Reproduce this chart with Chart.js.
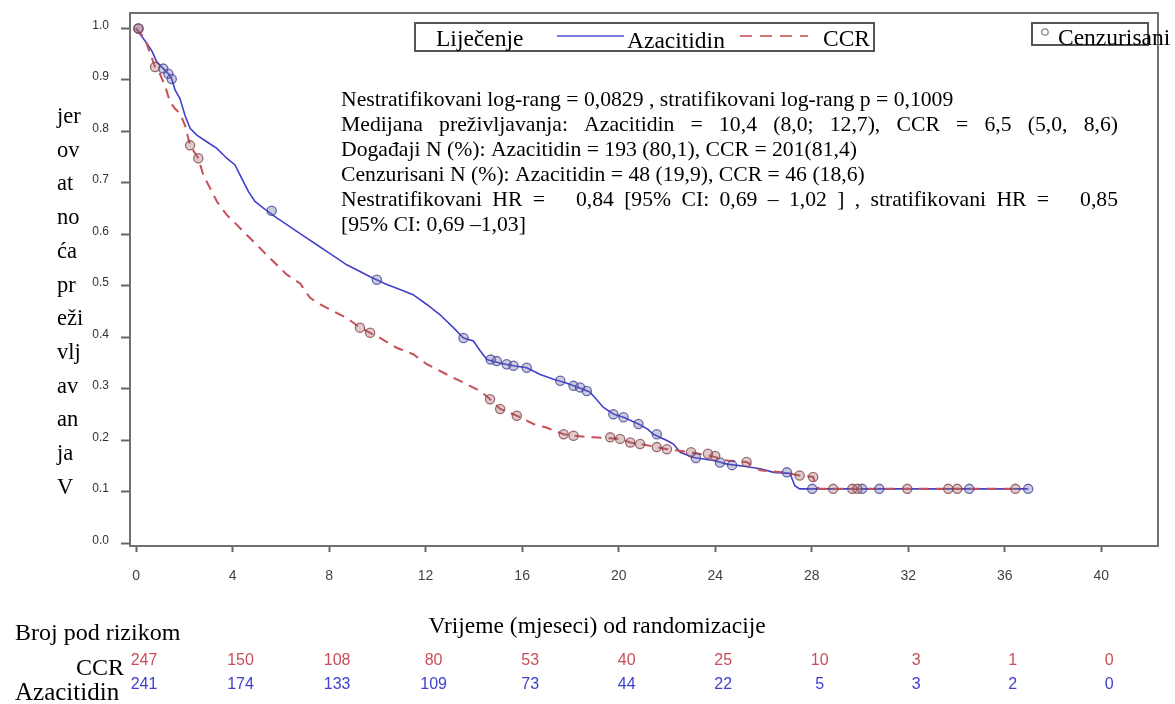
<!DOCTYPE html>
<html>
<head>
<meta charset="utf-8">
<script src="https://cdn.jsdelivr.net/npm/chart.js@4.4.1/dist/chart.umd.min.js"></script>
<style>
html,body{margin:0;padding:0;background:#fff;overflow:hidden}
#wrap{position:relative;width:1175px;height:704px}
canvas{display:block}
</style>
</head>
<body>
<div id="wrap"><canvas id="c" width="1175" height="704"></canvas></div>
<script>
// ---------- DATA ----------
const xTicks = [0, 4, 8, 12, 16, 20, 24, 28, 32, 36, 40];
const yTicks = [0, 0.1, 0.2, 0.3, 0.4, 0.5, 0.6, 0.7, 0.8, 0.9, 1.0];

// Kaplan-Meier curve points (time in months, survival)
const azaTime = [0, 0.37, 0.65, 0.86, 1.13, 1.34, 1.48, 1.62, 1.82, 2.03, 2.24, 2.52, 2.93, 3.35, 3.76, 4.10, 4.38, 4.66, 4.93, 5.28, 5.83, 6.25, 6.66, 7.08, 7.49, 7.90, 8.32, 8.73, 9.28, 9.70, 10.39, 10.94, 11.48, 12.05, 12.60, 13.15, 13.57, 13.98, 14.26, 14.54, 15.10, 15.64, 16.19, 16.75, 17.30, 17.80, 18.13, 18.50, 18.80, 19.02, 19.37, 19.80, 20.20, 20.82, 21.20, 21.44, 22.00, 22.27, 22.55, 23.10, 23.93, 24.50, 25.20, 25.87, 26.42, 27.10, 27.30, 27.50, 36.97];
const azaSurv = [1.0, 0.976, 0.957, 0.935, 0.922, 0.912, 0.902, 0.880, 0.864, 0.831, 0.806, 0.793, 0.780, 0.767, 0.748, 0.735, 0.709, 0.683, 0.664, 0.651, 0.632, 0.619, 0.606, 0.593, 0.580, 0.567, 0.554, 0.541, 0.528, 0.518, 0.503, 0.493, 0.483, 0.464, 0.444, 0.419, 0.399, 0.393, 0.374, 0.357, 0.350, 0.345, 0.341, 0.328, 0.319, 0.312, 0.306, 0.300, 0.294, 0.283, 0.264, 0.251, 0.245, 0.232, 0.222, 0.212, 0.200, 0.193, 0.177, 0.167, 0.161, 0.154, 0.150, 0.145, 0.138, 0.136, 0.112, 0.106, 0.106];

const ccrTime = [0, 0.37, 0.79, 0.99, 1.20, 1.41, 1.62, 1.82, 2.03, 2.24, 2.58, 2.79, 3.07, 3.35, 3.76, 4.17, 4.59, 5.00, 5.42, 5.83, 6.25, 6.80, 7.21, 7.63, 8.18, 8.73, 9.28, 9.70, 10.11, 10.80, 11.50, 12.05, 12.88, 13.71, 14.26, 14.67, 15.09, 15.78, 16.47, 17.00, 17.72, 18.13, 18.96, 20.06, 20.48, 20.89, 21.58, 22.00, 22.96, 23.80, 24.50, 25.30, 25.87, 26.80, 27.50, 28.06, 28.15, 28.30, 36.44];
const ccrSurv = [1.0, 0.980, 0.925, 0.912, 0.889, 0.857, 0.844, 0.835, 0.812, 0.773, 0.748, 0.715, 0.690, 0.664, 0.638, 0.619, 0.599, 0.580, 0.560, 0.541, 0.522, 0.505, 0.477, 0.464, 0.451, 0.438, 0.419, 0.409, 0.399, 0.380, 0.367, 0.348, 0.328, 0.309, 0.296, 0.280, 0.261, 0.248, 0.232, 0.225, 0.212, 0.209, 0.206, 0.203, 0.196, 0.193, 0.187, 0.183, 0.177, 0.170, 0.161, 0.158, 0.142, 0.138, 0.132, 0.129, 0.116, 0.106, 0.106];

// Censored observations
const azaCensorTime = [0.10, 1.13, 1.34, 1.48, 5.62, 9.98, 13.57, 14.70, 14.95, 15.36, 15.64, 16.19, 17.58, 18.13, 18.40, 18.68, 19.78, 20.20, 20.82, 21.58, 23.20, 24.20, 24.70, 26.97, 28.02, 30.09, 30.80, 34.53, 36.97];
const azaCensorSurv = [1.0, 0.922, 0.912, 0.902, 0.646, 0.512, 0.399, 0.357, 0.354, 0.348, 0.345, 0.341, 0.316, 0.306, 0.303, 0.296, 0.251, 0.245, 0.232, 0.212, 0.166, 0.157, 0.152, 0.138, 0.106, 0.106, 0.106, 0.106, 0.106];
const ccrCensorTime = [0.10, 0.79, 2.24, 2.58, 9.28, 9.70, 14.67, 15.09, 15.78, 17.72, 18.13, 19.65, 20.06, 20.48, 20.89, 21.58, 22.00, 23.00, 23.70, 24.00, 25.30, 27.50, 28.06, 28.89, 29.68, 29.89, 31.96, 33.66, 34.03, 36.44];
const ccrCensorSurv = [1.0, 0.925, 0.773, 0.748, 0.419, 0.409, 0.280, 0.261, 0.248, 0.212, 0.209, 0.206, 0.203, 0.196, 0.193, 0.187, 0.183, 0.177, 0.174, 0.170, 0.158, 0.132, 0.129, 0.106, 0.106, 0.106, 0.106, 0.106, 0.106, 0.106];

// Number at risk
const riskTimes = [0, 4, 8, 12, 16, 20, 24, 28, 32, 36, 40];
const riskCCR = [247, 150, 108, 80, 53, 40, 25, 10, 3, 1, 0];
const riskAza = [241, 174, 133, 109, 73, 44, 22, 5, 3, 2, 0];

// Texts
const seriesNames = ['Azacitidin', 'CCR'];
const legendTitle = 'Liječenje';
const censorLabel = 'Cenzurisani';
const yTitleParts = ['jer', 'ov', 'at', 'no', 'ća', 'pr', 'eži', 'vlj', 'av', 'an', 'ja', 'V'];
const xTitle = 'Vrijeme (mjeseci) od randomizacije';
const riskTitle = 'Broj pod rizikom';
const annotationLines = [
  'Nestratifikovani log-rang = 0,0829 , stratifikovani log-rang p = 0,1009',
  'Medijana preživljavanja: Azacitidin = 10,4 (8,0; 12,7), CCR = 6,5 (5,0, 8,6)',
  'Događaji N (%): Azacitidin = 193 (80,1), CCR = 201(81,4)',
  'Cenzurisani N (%): Azacitidin = 48 (19,9), CCR = 46 (18,6)',
  'Nestratifikovani HR =   0,84 [95% CI: 0,69 – 1,02 ] , stratifikovani HR =   0,85',
  '[95% CI: 0,69 –1,03]'
];
const annotationJustified = [false, true, false, false, true, false];

// ---------- STYLE ----------
const BLUE = 'rgb(64,64,205)';
const RED = 'rgb(200,78,88)';
const SERIF = "'Liberation Serif', 'Times New Roman', serif";
const SANS = "'Liberation Sans', Arial, sans-serif";
const TEXT_RIGHT = 1118;

const toXY = (ts, ss) => ts.map((t, i) => ({ x: t, y: ss[i] }));

function drawLine(ctx, text, x, y, right) {
  if (!right) { ctx.fillText(text, x, y); return; }
  const parts = text.split(' ');
  const widths = parts.map(p => ctx.measureText(p).width);
  const total = widths.reduce((a, b) => a + b, 0);
  const sp = ctx.measureText(' ').width;
  let gap = (right - x - total) / (parts.length - 1);
  if (gap < sp) gap = sp;
  let cx = x;
  parts.forEach((p, i) => { if (p) ctx.fillText(p, cx, y); cx += widths[i] + gap; });
}

const decor = {
  id: 'decor',
  afterDraw(chart) {
    const ctx = chart.ctx;
    const ca = chart.chartArea;
    const xs = chart.scales.x;
    ctx.save();
    // plot frame
    ctx.strokeStyle = '#707070';
    ctx.lineWidth = 2;
    ctx.strokeRect(ca.left, ca.top, ca.right - ca.left, ca.bottom - ca.top);

    // legend box
    ctx.fillStyle = '#fff';
    ctx.fillRect(415, 23, 459, 28);
    ctx.strokeStyle = '#555';
    ctx.lineWidth = 2;
    ctx.strokeRect(415, 23, 459, 28);
    ctx.fillStyle = '#000';
    ctx.textBaseline = 'alphabetic';
    ctx.textAlign = 'left';
    ctx.font = '23.5px ' + SERIF;
    ctx.fillText(legendTitle, 436, 46);
    ctx.strokeStyle = 'rgba(90,90,220,0.8)';
    ctx.lineWidth = 2;
    ctx.beginPath(); ctx.moveTo(557, 36); ctx.lineTo(624, 36); ctx.stroke();
    ctx.fillText(seriesNames[0], 627, 48);
    ctx.strokeStyle = 'rgba(205,90,100,0.85)';
    ctx.setLineDash([12, 8]);
    ctx.beginPath(); ctx.moveTo(740, 36); ctx.lineTo(808, 36); ctx.stroke();
    ctx.setLineDash([]);
    ctx.fillText(seriesNames[1], 823, 46);

    // censor legend
    ctx.fillStyle = '#fff';
    ctx.fillRect(1032, 23, 116, 22);
    ctx.strokeStyle = '#555';
    ctx.lineWidth = 2;
    ctx.strokeRect(1032, 23, 116, 22);
    ctx.strokeStyle = '#888';
    ctx.lineWidth = 1.3;
    ctx.beginPath(); ctx.arc(1045, 32, 3.2, 0, Math.PI * 2); ctx.stroke();
    ctx.fillStyle = '#000';
    ctx.fillText(censorLabel, 1058, 45);

    // annotation block
    ctx.font = '21.7px ' + SERIF;
    annotationLines.forEach((line, i) => drawLine(ctx, line, 341, 106 + i * 25, annotationJustified[i] ? TEXT_RIGHT : null));

    // y title (stacked)
    ctx.textAlign = 'left';
    ctx.font = '22.5px ' + SERIF;
    yTitleParts.forEach((p, i) => ctx.fillText(p, 57, 123 + i * 33.7));

    // x title
    ctx.font = '23.5px ' + SERIF;
    ctx.textAlign = 'center';
    ctx.fillText(xTitle, 597, 633);

    // number at risk
    ctx.textAlign = 'left';
    ctx.font = '24px ' + SERIF;
    ctx.fillText(riskTitle, 15, 640);
    ctx.textAlign = 'right';
    ctx.fillText(seriesNames[1], 124, 675);
    ctx.textAlign = 'left';
    ctx.font = '25px ' + SERIF;
    ctx.fillText(seriesNames[0], 15, 700);

    ctx.font = '16px ' + SANS;
    ctx.textAlign = 'center';
    ctx.textBaseline = 'middle';
    riskTimes.forEach((t, i) => {
      const px = xs.getPixelForValue(t) + 8;
      ctx.fillStyle = RED;
      ctx.fillText(String(riskCCR[i]), px, 661);
      ctx.fillStyle = BLUE;
      ctx.fillText(String(riskAza[i]), px, 685);
    });
    ctx.restore();
  }
};

new Chart(document.getElementById('c'), {
  type: 'line',
  data: {
    datasets: [
      {
        label: seriesNames[0],
        data: toXY(azaTime, azaSurv),
        borderColor: BLUE,
        borderWidth: 1.6,
        tension: 0,
        pointRadius: 0,
        fill: false,
        order: 3
      },
      {
        label: seriesNames[1],
        data: toXY(ccrTime, ccrSurv),
        borderColor: RED,
        borderWidth: 2,
        borderDash: [10, 7],
        tension: 0,
        pointRadius: 0,
        fill: false,
        order: 2
      },
      {
        label: 'Azacitidin cenzurisani',
        data: toXY(azaCensorTime, azaCensorSurv),
        showLine: false,
        pointRadius: 4.6,
        pointBorderWidth: 1.3,
        pointBackgroundColor: 'rgba(110,110,170,0.35)',
        pointBorderColor: 'rgba(60,60,150,0.75)',
        order: 1
      },
      {
        label: 'CCR cenzurisani',
        data: toXY(ccrCensorTime, ccrCensorSurv),
        showLine: false,
        pointRadius: 4.6,
        pointBorderWidth: 1.3,
        pointBackgroundColor: 'rgba(160,110,110,0.35)',
        pointBorderColor: 'rgba(130,60,70,0.75)',
        order: 0
      }
    ]
  },
  options: {
    responsive: false,
    animation: false,
    devicePixelRatio: 1,
    layout: { padding: { left: 0, top: 13, right: 17, bottom: 0 } },
    plugins: { legend: { display: false }, tooltip: { enabled: false }, title: { display: false } },
    scales: {
      x: {
        type: 'linear',
        min: -0.25,
        max: 42.35,
        afterBuildTicks: s => { s.ticks = xTicks.map(v => ({ value: v })); },
        afterFit: s => { s.height = 158; s.paddingLeft = 0; s.paddingRight = 0; },
        grid: { drawOnChartArea: false, drawTicks: true, tickLength: 6, tickWidth: 2, tickColor: '#666' },
        border: { display: true, color: '#666', width: 2 },
        ticks: { font: { size: 14, family: SANS }, color: '#444', padding: 16, maxRotation: 0 }
      },
      y: {
        type: 'linear',
        min: -0.005,
        max: 1.03,
        afterBuildTicks: s => { s.ticks = yTicks.map(v => ({ value: v })); },
        afterFit: s => { s.width = 130; s.paddingTop = 0; s.paddingBottom = 0; },
        grid: { drawOnChartArea: false, drawTicks: true, tickLength: 9, tickWidth: 2, tickColor: '#666' },
        border: { display: true, color: '#666', width: 2 },
        ticks: { font: { size: 12, family: SANS }, color: '#333', padding: 12, labelOffset: -3, callback: v => Number(v).toFixed(1) }
      }
    }
  },
  plugins: [decor]
});
</script>
</body>
</html>
